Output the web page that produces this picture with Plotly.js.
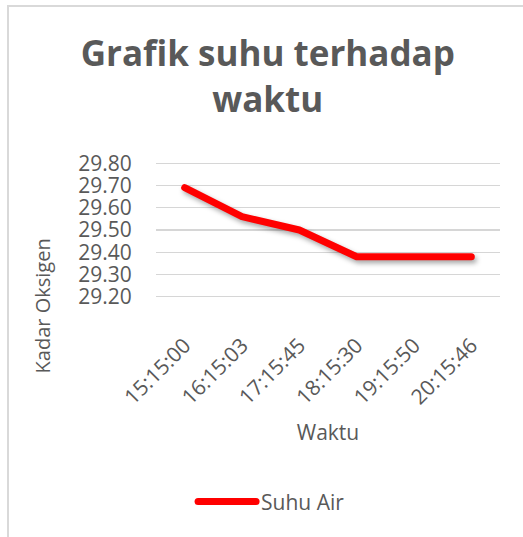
<!DOCTYPE html>
<html>
<head>
<meta charset="utf-8">
<script src="https://cdn.plot.ly/plotly-3.0.1.min.js"></script>
<style>
  html, body { margin: 0; padding: 0; background: #ffffff; overflow: hidden; }
  #frame { position: absolute; left: 7px; top: 5px; width: 600px; height: 600px;
           border-left: 2px solid #d9d9d9; border-top: 2px solid #d9d9d9; }
  #chart { position: absolute; left: 0; top: 0; width: 523px; height: 537px; }
  .scatterlayer path.js-line { stroke-linecap: round !important; stroke-linejoin: round !important;
           filter: drop-shadow(2px 3px 2.5px rgba(0,0,0,0.35)); }
  .legend .legendlines path { stroke-linecap: round !important; }
</style>
</head>
<body>
<div id="frame"></div>
<div id="chart"></div>
<script>
const categories = ["15:15:00", "16:15:03", "17:15:45", "18:15:30", "19:15:50", "20:15:46"];
const suhuAir = [29.69, 29.56, 29.50, 29.38, 29.38, 29.38];
const yTicks = [29.20, 29.30, 29.40, 29.50, 29.60, 29.70, 29.80];
const yTickLabels = ["29.20", "29.30", "29.40", "29.50", "29.60", "29.70", "29.80"];
const seriesName = "Suhu Air";
const titleText = "Grafik suhu terhadap<br>waktu";
const xTitle = "Waktu";
const yTitle = "Kadar Oksigen";

const textColor = "#595959";
const font = "Open Sans, sans-serif";

const data = [{
  x: categories,
  y: suhuAir,
  type: "scatter",
  mode: "lines",
  name: seriesName,
  line: { color: "#ff0000", width: 7 },
  showlegend: true
}];

const layout = {
  width: 523,
  height: 537,
  paper_bgcolor: "rgba(0,0,0,0)",
  plot_bgcolor: "rgba(0,0,0,0)",
  margin: { l: 156, r: 23, t: 161, b: 238 },
  font: { family: font, color: textColor, size: 21 },
  title: {
    text: titleText,
    font: { family: font, size: 35, color: textColor, weight: 700 },
    x: 0.512, xanchor: "center",
    y: 1 - 66 / 537, yanchor: "top"
  },
  xaxis: {
    type: "category",
    range: [-0.5, 5.5],
    tickangle: -45,
    ticks: "outside",
    ticklen: 25,
    tickcolor: "rgba(0,0,0,0)",
    showline: false,
    showgrid: false,
    zeroline: false,
    tickfont: { family: font, size: 21, color: textColor },
    title: { text: xTitle, font: { family: font, size: 21, color: textColor }, standoff: 16 }
  },
  yaxis: {
    range: [29.19, 29.81],
    tickvals: yTicks,
    ticktext: yTickLabels,
    ticks: "outside",
    ticklen: 19,
    tickcolor: "rgba(0,0,0,0)",
    showgrid: true,
    gridcolor: "#d6d6d6",
    gridwidth: 1.4,
    zeroline: false,
    showline: false,
    tickfont: { family: font, size: 21, color: textColor }
  },
  annotations: [{
    text: yTitle,
    xref: "paper", yref: "paper",
    x: -0.33, y: -0.05,
    xanchor: "center", yanchor: "middle",
    textangle: -90,
    showarrow: false,
    font: { family: font, size: 20, color: textColor }
  }],
  showlegend: true,
  legend: {
    orientation: "h",
    x: 0.336, xanchor: "center",
    y: -1.47, yanchor: "middle",
    font: { family: font, size: 21, color: textColor },
    itemwidth: 58
  }
};

Plotly.newPlot("chart", data, layout, { staticPlot: true, displayModeBar: false });
</script>
</body>
</html>
